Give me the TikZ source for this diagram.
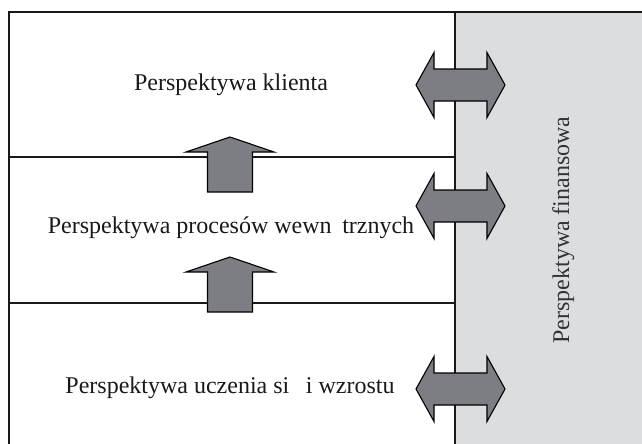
\documentclass[tikz,border=0pt]{standalone}
\usepackage{fontspec}
\setmainfont{Liberation Serif}
\usepackage{tikz}
\definecolor{finGray}{RGB}{220,221,223}
\definecolor{arrGray}{RGB}{125,126,131}
\def\pfont{\fontsize{24}{28}\selectfont}
\def\gap{\hspace{0.44em}}

\begin{document}
\begin{tikzpicture}[x=1pt,y=-1pt,
  frame/.style={line width=1.3pt,black!90},
  arrbox/.style={fill=arrGray,draw=black,line width=1.1pt},
  ptext/.style={anchor=base,inner sep=0pt,font=\pfont,text=black!90}]
\useasboundingbox (0,0) rectangle (642,444);
\fill[finGray] (455,12) rectangle (642,444);
\draw[frame] (642,12) -- (9,12) -- (9,444);
\draw[frame] (455,12) -- (455,444);
\draw[frame] (9,157) -- (455,157);
\draw[frame] (9,303) -- (455,303);
\draw(231,90) node[ptext] (klient) {Perspektywa klienta};
\draw(231,233) node[ptext] (procesy) {Perspektywa procesów wewn\gap trznych};
\draw(230,393) node[ptext] (rozwoj) {Perspektywa uczenia si\gap\ i wzrostu};
\draw(569,230) node[ptext,rotate=90,text=black!80] (finanse) {Perspektywa finansowa};
% strzalki w gore
\foreach \t in {137,257}
  \draw[arrbox,shift={(230,\t)}] (0,0) -- (44,15) -- (22.5,15) -- (22.5,55)
    -- (-22.5,55) -- (-22.5,15) -- (-44,15) -- cycle;
% strzalki podwojne
\foreach \t in {85,206,389}
  \draw[arrbox,shift={(460.5,\t)}] (-44.5,0) -- (-26.5,-32.5) -- (-26.5,-16)
    -- (26.5,-16) -- (26.5,-32.5) -- (44.5,0) -- (26.5,32.5) -- (26.5,16)
    -- (-26.5,16) -- (-26.5,32.5) -- cycle;
\end{tikzpicture}
\end{document}
